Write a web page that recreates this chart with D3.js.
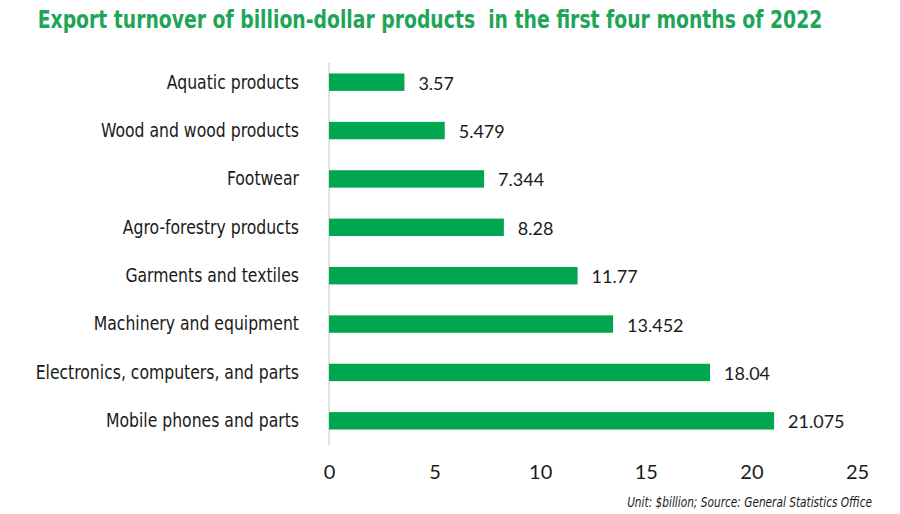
<!DOCTYPE html>
<html>
<head>
<meta charset="utf-8">
<script src="https://cdn.jsdelivr.net/npm/d3@7"></script>
<style>
  body { margin: 0; background: #fff; }
  .cond { font-family: 'Liberation Sans Narrow', 'DejaVu Sans Condensed', sans-serif; font-stretch: condensed; }
  .cat { font-size: 20px; fill: #1a1a1a; }
  .val { font-family: Lato, 'Open Sans', sans-serif; font-size: 18px; fill: #1a1a1a; }
  .tick text { font-family: Lato, 'Open Sans', sans-serif; font-size: 20px; fill: #1a1a1a; }
</style>
</head>
<body>
<div id="chart"></div>
<script>
// data, top to bottom
const categories = [
  'Aquatic products',
  'Wood and wood products',
  'Footwear',
  'Agro-forestry products',
  'Garments and textiles',
  'Machinery and equipment',
  'Electronics, computers, and parts',
  'Mobile phones and parts'
];
const values = [3.57, 5.479, 7.344, 8.28, 11.77, 13.452, 18.04, 21.075];
const valueLabels = ['3.57', '5.479', '7.344', '8.28', '11.77', '13.452', '18.04', '21.075'];
const xTicks = [0, 5, 10, 15, 20, 25];

const titleText = 'Export turnover of billion-dollar products  in the first four months of 2022';
const noteText = 'Unit: $billion; Source: General Statistics Office';

const width = 900, height = 514;
const green = '#00a650';
const squeeze = 0.87;  // fake a narrower face than the ones installed

const svg = d3.select('#chart').append('svg')
  .attr('width', width)
  .attr('height', height);

const x = d3.scaleLinear().domain([0, 25]).range([329, 857]);
const y = d3.scaleBand().domain(categories).range([58, 445])
  .paddingInner(0.64).paddingOuter(0.32);

// title, squeezed to the reference width
const title = svg.append('text')
  .attr('class', 'cond')
  .attr('text-anchor', 'middle')
  .style('font-weight', 'bold')
  .style('font-size', '25px')
  .style('fill', '#1ea557')
  .style('white-space', 'pre')
  .text(titleText);
const titleW = title.node().getComputedTextLength();
title.attr('transform', 'translate(430,28) scale(' + (785 / titleW) + ',1)');

// vertical baseline
svg.append('line')
  .attr('x1', x(0)).attr('x2', x(0))
  .attr('y1', 63).attr('y2', 445)
  .attr('stroke', '#d9d9d9')
  .attr('stroke-width', 1.5);

// bars
svg.selectAll('rect.bar')
  .data(values)
  .enter().append('rect')
    .attr('class', 'bar')
    .attr('x', x(0))
    .attr('y', (d, i) => y(categories[i]))
    .attr('width', d => x(d) - x(0))
    .attr('height', y.bandwidth())
    .attr('fill', green);

// value labels
svg.selectAll('text.val')
  .data(values)
  .enter().append('text')
    .attr('class', 'val')
    .attr('x', d => x(d) + 14)
    .attr('y', (d, i) => y(categories[i]) + y.bandwidth() / 2)
    .attr('dy', '0.42em')
    .text((d, i) => valueLabels[i]);

// category labels
svg.selectAll('text.cat')
  .data(categories)
  .enter().append('text')
    .attr('class', 'cat cond')
    .attr('transform', d => 'translate(299,' + (y(d) + y.bandwidth() / 2) + ') scale(' + squeeze + ',1)')
    .attr('dy', '0.32em')
    .attr('text-anchor', 'end')
    .text(d => d);

// x axis (labels only)
const xAxis = svg.append('g')
  .attr('transform', 'translate(0,462)')
  .call(d3.axisBottom(x).tickValues(xTicks).tickSize(0).tickPadding(0));
xAxis.select('.domain').remove();
xAxis.selectAll('.tick text').attr('dy', '0.85em');

// footnote
svg.append('text')
  .attr('class', 'cond')
  .attr('transform', 'translate(872,507) scale(0.84,1)')
  .attr('text-anchor', 'end')
  .style('font-style', 'italic')
  .style('font-size', '14px')
  .style('fill', '#1a1a1a')
  .text(noteText);
</script>
</body>
</html>
